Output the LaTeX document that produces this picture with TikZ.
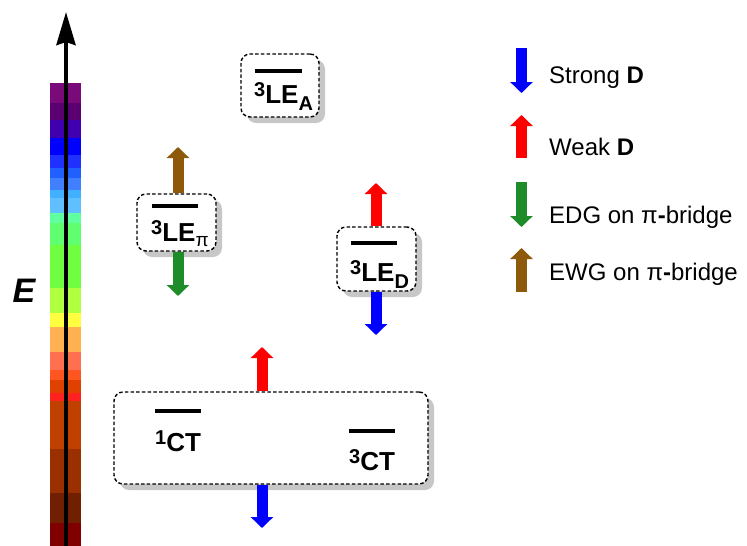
\documentclass[tikz,border=0pt]{standalone}
\usepackage{fontspec}
\setmainfont{Liberation Sans}
\usetikzlibrary{arrows.meta,shadows}
\definecolor{edg}{RGB}{30,140,40}
\definecolor{ewg}{RGB}{140,90,10}
\newcommand\supn[1]{\raisebox{7pt}{\fontsize{20}{20}\selectfont #1}}
\newcommand\subn[1]{\raisebox{-7pt}{\fontsize{20}{20}\selectfont #1}}
\begin{document}
\begin{tikzpicture}[x=1pt,y=-1pt,
  lvlbox/.style={draw, dash pattern=on 3.5pt off 2.2pt, line width=1.4pt, rounded corners=9pt, fill=white,
    drop shadow={shadow xshift=6pt, shadow yshift=-6pt, fill=black!22, opacity=1}, inner sep=0pt},
  lvlline/.style={line width=3.2pt},
  lbl/.style={font=\fontsize{26}{26}\selectfont\bfseries, anchor=base west, inner sep=0pt},
  blk/.style={line width=11pt, -{Triangle[width=22pt,length=11pt]}},
  leg/.style={font=\fontsize{24}{24}\selectfont, anchor=base west, inner sep=0pt},
]
\useasboundingbox (0,0) rectangle (747,546);
% colour bar
\foreach \a/\b/\c in {83/103/7A0A7A,103/120/5A0070,120/138/4000B0,138/155/0000FF,155/168/2030FF,
  168/178/2060FF,178/190/4080FF,190/198/40B0FF,198/213/60C0FF,213/223/60FFA0,223/245/60FF70,
  245/288/70FF40,288/313/B0FF40,313/327/FFFF40,327/352/FFB050,352/370/FF7050,370/380/FF5520,
  380/393/E04000,393/401/FF2020,401/449/C04000,449/493/9A3000,493/523/702000,523/546/800000}{
  \edef\tmp{\noexpand\definecolor{bc}{HTML}{\c}}\tmp
  \fill[bc] (50,\a) rectangle (81,\b+0.5);
}
\coordinate (ebot) at (66,546);
\coordinate (etop) at (66,12);
\draw[line width=4pt, -{Stealth[length=33pt,width=19pt,inset=3pt]}] (ebot) -- (etop);
\node[font=\fontsize{34}{34}\selectfont\bfseries\itshape] (elab) at (24,291) {E};

% boxes
\node[lvlbox, minimum width=78pt, minimum height=63pt] (lea) at (280,85.5) {};
\node[lvlbox, minimum width=79pt, minimum height=57pt] (lepi) at (176.5,222.5) {};
\node[lvlbox, minimum width=79pt, minimum height=64pt] (led) at (376.5,259) {};
\node[lvlbox, minimum width=314pt, minimum height=92pt] (ct) at (271,438) {};

% levels
\draw[lvlline] (255,71) -- (302,71);
\draw[lvlline] (152,206) -- (198,206);
\draw[lvlline] (351,243) -- (397,243);
\draw[lvlline] (155,411) -- (201,411);
\draw[lvlline] (349,431) -- (395,431);

\node[lbl] (lealbl) at (254,103) {\supn{3}LE\subn{A}};
\node[lbl] (lepilbl) at (151,241) {\supn{3}LE\raisebox{-5pt}{\fontsize{19}{19}\selectfont\normalfont π}};
\node[lbl] (ledlbl) at (350,281) {\supn{3}LE\subn{D}};
\node[lbl] (ct1) at (155,451) {\supn{1}CT};
\node[lbl] (ct3) at (349,470) {\supn{3}CT};

% block arrows on levels
\coordinate (pup) at (178,147);
\coordinate (pdn) at (178,296);
\draw[blk, ewg] (lepi.north -| pup) -- (pup);
\draw[blk, edg] (lepi.south -| pdn) -- (pdn);
\coordinate (dup) at (376,183);
\coordinate (ddn) at (376,335);
\draw[blk, red] (led.north -| dup) -- (dup);
\draw[blk, blue] (led.south -| ddn) -- (ddn);
\coordinate (cup) at (262,347);
\coordinate (cdn) at (262,528);
\draw[blk, red] (ct.north -| cup) -- (cup);
\draw[blk, blue] (ct.south -| cdn) -- (cdn);

% legend
\coordinate (l1a) at (521.5,48);  \coordinate (l1b) at (521.5,93);
\coordinate (l2a) at (521.5,158); \coordinate (l2b) at (521.5,115);
\coordinate (l3a) at (521.5,182); \coordinate (l3b) at (521.5,227);
\coordinate (l4a) at (521.5,292); \coordinate (l4b) at (521.5,248);
\draw[blk, blue] (l1a) -- (l1b);
\draw[blk, red] (l2a) -- (l2b);
\draw[blk, edg] (l3a) -- (l3b);
\draw[blk, ewg] (l4a) -- (l4b);
\node[leg] (t1) at (549,83) {Strong \textbf{D}};
\node[leg] (t2) at (549,155) {Weak \textbf{D}};
\node[leg] (t3) at (549,223) {EDG on π\textbf{-}bridge};
\node[leg] (t4) at (549,280) {EWG on π\textbf{-}bridge};
\end{tikzpicture}
\end{document}
